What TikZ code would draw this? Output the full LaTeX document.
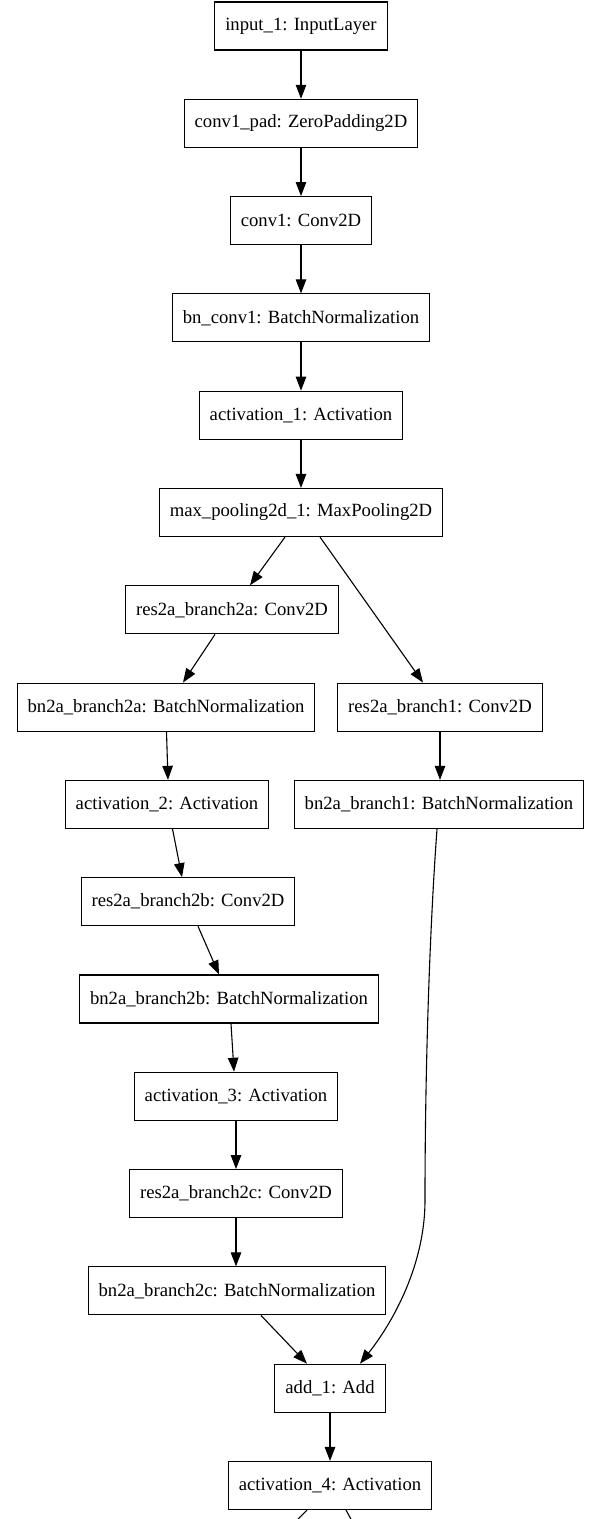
\documentclass[tikz,border=0pt]{standalone}
\usepackage{fontspec}
\setmainfont{Liberation Serif}
\usetikzlibrary{arrows.meta}
\begin{document}
\begin{tikzpicture}[x=1pt,y=-1pt,
  layer/.style={draw=black,line width=1.1pt,fill=white,rectangle,minimum height=48pt,inner xsep=10.5pt,inner ysep=0pt,font=\fontsize{18.67pt}{22pt}\selectfont},
  edge/.style={line width=1.1pt,-{Triangle[length=14pt,width=10.5pt]}},
  plain/.style={line width=1.1pt}]
\useasboundingbox (0,0) rectangle (601,1519);
\node[layer] (in)   at (301,26)     {input\_1: InputLayer};
\node[layer] (pad)  at (301,123.3)  {conv1\_pad: ZeroPadding2D};
\node[layer] (c1)   at (301,220.6)  {conv1: Conv2D};
\node[layer] (bnc)  at (301,317.9)  {bn\_conv1: BatchNormalization};
\node[layer] (a1)   at (301,415.2)  {activation\_1: Activation};
\node[layer] (mp)   at (301,512.5)  {max\_pooling2d\_1: MaxPooling2D};
\node[layer] (r2a)  at (232,609.8)  {res2a\_branch2a: Conv2D};
\node[layer] (b2a)  at (166,707.1)  {bn2a\_branch2a: BatchNormalization};
\node[layer] (r1)   at (440,707.1)  {res2a\_branch1: Conv2D};
\node[layer] (a2)   at (167,804.4)  {activation\_2: Activation};
\node[layer] (b1)   at (439,804.4)  {bn2a\_branch1: BatchNormalization};
\node[layer] (r2b)  at (188,901.7)  {res2a\_branch2b: Conv2D};
\node[layer] (b2b)  at (229,999)    {bn2a\_branch2b: BatchNormalization};
\node[layer] (a3)   at (236,1096.3) {activation\_3: Activation};
\node[layer] (r2c)  at (236,1193.6) {res2a\_branch2c: Conv2D};
\node[layer] (b2c)  at (237,1290.9) {bn2a\_branch2c: BatchNormalization};
\node[layer] (add)  at (330,1388.2) {add\_1: Add};
\node[layer] (a4)   at (330,1485.5) {activation\_4: Activation};
\coordinate (outL) at (296,1521);
\coordinate (outR) at (352,1521);

\draw[edge] (in.south) -- (pad.north);
\draw[edge] (pad.south) -- (c1.north);
\draw[edge] (c1.south) -- (bnc.north);
\draw[edge] (bnc.south) -- (a1.north);
\draw[edge] (a1.south) -- (mp.north);
\draw[edge] ([xshift=-16pt]mp.south) -- ([xshift=18pt]r2a.north);
\draw[edge] ([xshift=19pt]mp.south) -- ([xshift=-17pt]r1.north);
\draw[edge] ([xshift=-17pt]r2a.south) -- ([xshift=17pt]b2a.north);
\draw[edge] (r1.south) -- ([xshift=1pt]b1.north);
\draw[edge] ([xshift=0.5pt]b2a.south) -- ([xshift=1pt]a2.north);
\draw[edge] ([xshift=5.5pt]a2.south) -- ([xshift=-6pt]r2b.north);
\draw[edge] ([xshift=10pt]r2b.south) -- ([xshift=-10pt]b2b.north);
\draw[edge] ([xshift=2pt]b2b.south) -- ([xshift=-2pt]a3.north);
\draw[edge] (a3.south) -- (r2c.north);
\draw[edge] (r2c.south) -- ([xshift=-1pt]b2c.north);
\draw[edge] ([xshift=24pt]b2c.south) -- ([xshift=-23pt]add.north);
\draw[edge] ([xshift=-2pt]b1.south) .. controls +(-8,110) and +(0,-120) .. (425,1200)
   .. controls +(0,70) and +(28,-35) .. ([xshift=30pt]add.north);
\draw[edge] (add.south) -- (a4.north);
\draw[plain] ([xshift=-23pt]a4.south) -- (outL);
\draw[plain] ([xshift=16pt]a4.south) -- (outR);
\end{tikzpicture}
\end{document}
